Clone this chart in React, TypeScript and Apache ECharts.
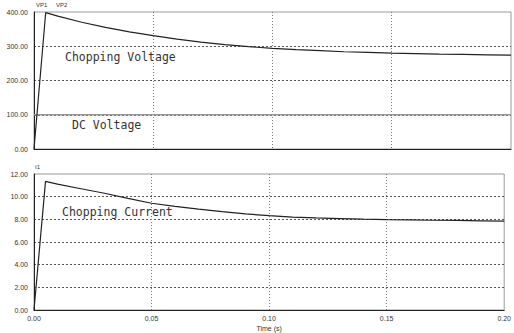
import React, { useEffect, useRef } from "react";
import * as echarts from "echarts";

const timeS = [0, 0.0049, 0.01, 0.02, 0.03, 0.04, 0.05, 0.06, 0.07, 0.08, 0.09, 0.1, 0.11, 0.12, 0.13, 0.14, 0.15, 0.16, 0.17, 0.18, 0.19, 0.2];
const choppingVoltage = [0, 398, 388, 370, 355, 342, 331, 321, 312, 305, 299, 294, 290, 287, 284, 282, 280, 278.5, 277, 276, 275, 274];
const dcTime = [0, 0.2];
const dcVoltage = [100, 100];
const choppingCurrent = [0, 11.35, 11.1, 10.7, 10.3, 9.85, 9.42, 9.15, 8.9, 8.68, 8.48, 8.32, 8.2, 8.12, 8.07, 8.02, 7.98, 7.95, 7.92, 7.9, 7.87, 7.85];

const pair = (xs: number[], ys: number[]) => xs.map((x, i) => [x, ys[i]]);

export default function App() {
  const ref = useRef<HTMLDivElement>(null);
  useEffect(() => {
    document.body.style.margin = "0";
    const chart = echarts.init(ref.current!, null, { renderer: "svg" });
    const labelStyle = { fontSize: 7, color: "#333", fontFamily: "Liberation Sans, Arial, sans-serif" };
    const xBase = {
      type: "value" as const,
      min: 0,
      max: 0.2,
      interval: 0.05,
      axisLine: { show: true, onZero: false, lineStyle: { color: "#222", width: 1 } },
      axisTick: { show: false },
      splitLine: { show: true, showMinLine: false, showMaxLine: false, lineStyle: { type: [1, 2] as any, color: "#777", width: 1 } },
    };
    const yBase = {
      type: "value" as const,
      min: 0,
      axisLine: { show: true, lineStyle: { color: "#222", width: 1 } },
      axisTick: { show: false },
      splitLine: { show: true, showMinLine: false, showMaxLine: false, lineStyle: { type: [2, 2] as any, color: "#555", width: 1 } },
    };
    const textFont = "DejaVu Sans Mono, monospace";
    chart.setOption({
      animation: false,
      backgroundColor: "#fff",
      grid: [
        { left: 34, right: 3, top: 12, height: 137, show: true, borderColor: "#999", borderWidth: 1 },
        { left: 34, right: 3, top: 174, height: 136, show: true, borderColor: "#999", borderWidth: 1 },
      ],
      xAxis: [
        { ...xBase, gridIndex: 0, axisLabel: { show: false } },
        {
          ...xBase,
          gridIndex: 1,
          axisLabel: { ...labelStyle, margin: 5, formatter: (v: number) => v.toFixed(2) },
          name: "Time (s)",
          nameLocation: "middle",
          nameGap: 15,
          nameTextStyle: { ...labelStyle },
        },
      ],
      yAxis: [
        { ...yBase, gridIndex: 0, max: 400, interval: 100, axisLabel: { ...labelStyle, margin: 6, formatter: (v: number) => v.toFixed(2) } },
        { ...yBase, gridIndex: 1, max: 12, interval: 2, axisLabel: { ...labelStyle, margin: 6, formatter: (v: number) => v.toFixed(2) } },
      ],
      series: [
        {
          type: "line",
          xAxisIndex: 0,
          yAxisIndex: 0,
          data: pair(dcTime, dcVoltage),
          showSymbol: false,
          lineStyle: { color: "#999", width: 1.5 },
        },
        {
          type: "line",
          xAxisIndex: 0,
          yAxisIndex: 0,
          data: pair(timeS, choppingVoltage),
          showSymbol: false,
          lineStyle: { color: "#222", width: 1.2 },
        },
        {
          type: "line",
          xAxisIndex: 1,
          yAxisIndex: 1,
          data: pair(timeS, choppingCurrent),
          showSymbol: false,
          lineStyle: { color: "#222", width: 1.2 },
        },
      ],
      graphic: [
        { type: "text", left: 36, top: 2, style: { text: "VP1", fontSize: 6, fill: "#333", fontFamily: "Liberation Sans, Arial, sans-serif" } },
        { type: "text", left: 56, top: 2, style: { text: "VP2", fontSize: 6, fill: "#333", fontFamily: "Liberation Sans, Arial, sans-serif" } },
        { type: "text", left: 35, top: 164, style: { text: "I1", fontSize: 6, fill: "#333", fontFamily: "Liberation Sans, Arial, sans-serif" } },
        { type: "text", left: 65, top: 51, style: { text: "Chopping Voltage", fontSize: 11.5, fill: "#333", fontFamily: textFont } },
        { type: "text", left: 72, top: 119, style: { text: "DC Voltage", fontSize: 11.5, fill: "#333", fontFamily: textFont } },
        { type: "text", left: 62, top: 206, style: { text: "Chopping Current", fontSize: 11.5, fill: "#333", fontFamily: textFont } },
      ],
    });
    return () => chart.dispose();
  }, []);
  return <div ref={ref} style={{ width: 514, height: 333 }} />;
}
